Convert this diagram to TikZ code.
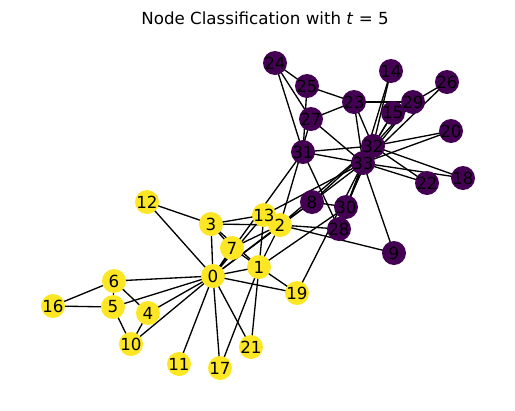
\documentclass[tikz,border=0pt]{standalone}
\usepackage{fontspec}
\setmainfont{DejaVu Sans}
\definecolor{vyellow}{HTML}{FDE725}
\definecolor{vpurple}{HTML}{440154}
\begin{document}
\begin{tikzpicture}[x=0.75pt, y=-0.75pt]
  \tikzset{edge/.style={line width=1pt, black},
           vlabel/.style={font=\fontsize{12.5}{14}\selectfont, inner sep=0pt}}
  \useasboundingbox (0,0) rectangle (515,411);
  \node[vlabel] (title) at (265,18) {Node Classification with \textit{t} = 5};
  \foreach \n/\x/\y in {0/213/276, 1/259/267, 2/280/225, 3/211/224, 4/148/313,
                        5/113/307, 6/114/281, 7/232/248, 8/312/202, 9/394/253,
                        10/131/344, 11/179/364, 12/147/202, 13/264/215, 14/391/71,
                        15/393/113, 16/53/306, 17/220/368, 18/463/178, 19/297/293,
                        20/451/131, 21/251/347, 22/427/183, 23/354/102, 24/275/63,
                        25/307/86, 26/447/82, 27/311/119, 28/339/229, 29/413/102,
                        30/346/207, 31/303/152, 32/373/146, 33/363/163}
    \coordinate (v\n) at (\x,\y);
  \foreach \a/\b in {0/1, 0/2, 0/3, 0/4, 0/5, 0/6, 0/7, 0/8, 0/10, 0/11, 0/12,
                     0/13, 0/17, 0/19, 0/21, 0/31, 1/2, 1/3, 1/7, 1/13, 1/17,
                     1/19, 1/21, 1/30, 2/3, 2/7, 2/8, 2/9, 2/13, 2/27, 2/28,
                     2/32, 3/7, 3/12, 3/13, 4/6, 4/10, 5/6, 5/10, 5/16, 6/16,
                     8/30, 8/32, 8/33, 9/33, 13/33, 14/32, 14/33, 15/32, 15/33,
                     18/32, 18/33, 19/33, 20/32, 20/33, 22/32, 22/33, 23/25,
                     23/27, 23/29, 23/32, 23/33, 24/25, 24/27, 24/31, 25/31,
                     26/29, 26/33, 27/33, 28/31, 28/33, 29/32, 29/33, 30/32,
                     30/33, 31/32, 31/33, 32/33}
    \draw[edge] (v\a) -- (v\b);
  \foreach \n/\c in {0/vyellow, 1/vyellow, 2/vyellow, 3/vyellow, 4/vyellow,
                     5/vyellow, 6/vyellow, 7/vyellow, 8/vpurple, 9/vpurple,
                     10/vyellow, 11/vyellow, 12/vyellow, 13/vyellow, 14/vpurple,
                     15/vpurple, 16/vyellow, 17/vyellow, 18/vpurple, 19/vyellow,
                     20/vpurple, 21/vyellow, 22/vpurple, 23/vpurple, 24/vpurple,
                     25/vpurple, 26/vpurple, 27/vpurple, 28/vpurple, 29/vpurple,
                     30/vpurple, 31/vpurple, 32/vpurple, 33/vpurple}
    \fill[\c] (v\n) circle (9pt);
  \foreach \n in {0,...,33}
    \node[vlabel] (l\n) at (v\n) {\n};
\end{tikzpicture}
\end{document}
